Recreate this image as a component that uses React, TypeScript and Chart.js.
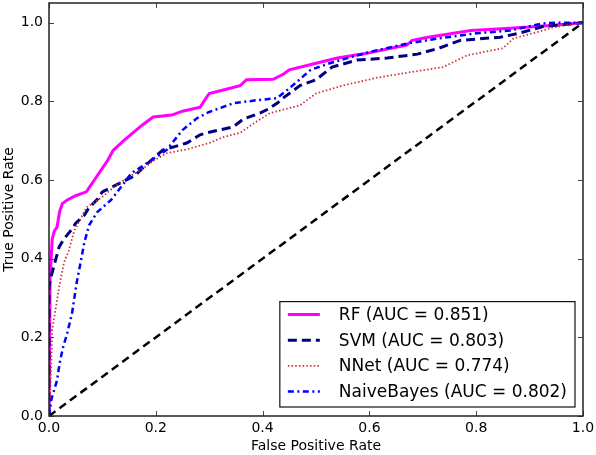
import React, { useEffect, useRef } from "react";
import { Chart, registerables } from "chart.js";

Chart.register(...registerables);

const seriesLabels = [
  "RF (AUC = 0.851)",
  "SVM (AUC = 0.803)",
  "NNet (AUC = 0.774)",
  "NaiveBayes (AUC = 0.802)",
];

const tickValues = [0, 0.2, 0.4, 0.6, 0.8, 1.0];

const rfFpr = [0, 0.002, 0.004, 0.006, 0.01, 0.015, 0.02, 0.025, 0.035, 0.05, 0.07, 0.08, 0.085, 0.095, 0.11, 0.12, 0.14, 0.157, 0.175, 0.195, 0.23, 0.25, 0.283, 0.29, 0.30, 0.33, 0.358, 0.37, 0.42, 0.44, 0.45, 0.50, 0.54, 0.595, 0.64, 0.67, 0.68, 0.71, 0.79, 0.863, 0.94, 1.0];
const rfTpr = [0, 0.35, 0.40, 0.45, 0.47, 0.48, 0.52, 0.54, 0.55, 0.56, 0.57, 0.59, 0.60, 0.62, 0.65, 0.675, 0.70, 0.72, 0.74, 0.76, 0.765, 0.775, 0.785, 0.80, 0.82, 0.83, 0.84, 0.855, 0.856, 0.87, 0.88, 0.897, 0.91, 0.922, 0.935, 0.943, 0.955, 0.963, 0.98, 0.986, 0.993, 1.0];

const svmFpr = [0, 0, 0.005, 0.013, 0.019, 0.028, 0.04, 0.05, 0.066, 0.075, 0.09, 0.10, 0.137, 0.16, 0.183, 0.213, 0.258, 0.283, 0.296, 0.345, 0.364, 0.395, 0.41, 0.427, 0.44, 0.47, 0.50, 0.53, 0.577, 0.633, 0.69, 0.73, 0.77, 0.845, 0.88, 0.925, 1.0];
const svmTpr = [0, 0.33, 0.36, 0.40, 0.43, 0.45, 0.47, 0.49, 0.51, 0.53, 0.55, 0.57, 0.595, 0.61, 0.64, 0.676, 0.694, 0.715, 0.72, 0.735, 0.755, 0.77, 0.78, 0.795, 0.81, 0.84, 0.855, 0.887, 0.905, 0.91, 0.92, 0.935, 0.955, 0.963, 0.973, 0.99, 1.0];

const nnetFpr = [0, 0.002, 0.004, 0.006, 0.013, 0.019, 0.028, 0.037, 0.047, 0.06, 0.07, 0.097, 0.12, 0.146, 0.172, 0.197, 0.22, 0.258, 0.30, 0.326, 0.358, 0.39, 0.414, 0.47, 0.50, 0.55, 0.614, 0.676, 0.738, 0.783, 0.85, 0.87, 0.914, 0.944, 1.0];
const nnetTpr = [0, 0.05, 0.125, 0.22, 0.277, 0.328, 0.39, 0.42, 0.47, 0.503, 0.53, 0.554, 0.58, 0.605, 0.625, 0.65, 0.668, 0.678, 0.694, 0.709, 0.72, 0.75, 0.77, 0.79, 0.82, 0.84, 0.86, 0.874, 0.887, 0.917, 0.935, 0.96, 0.976, 0.988, 1.0];

const nbFpr = [0, 0.005, 0.015, 0.02, 0.026, 0.034, 0.043, 0.052, 0.06, 0.066, 0.075, 0.09, 0.116, 0.135, 0.154, 0.18, 0.22, 0.25, 0.277, 0.30, 0.345, 0.39, 0.427, 0.45, 0.49, 0.526, 0.564, 0.614, 0.676, 0.73, 0.80, 0.863, 0.925, 0.95, 1.0];
const nbTpr = [0, 0.045, 0.09, 0.135, 0.173, 0.21, 0.26, 0.34, 0.396, 0.44, 0.485, 0.518, 0.549, 0.582, 0.617, 0.64, 0.676, 0.727, 0.757, 0.773, 0.795, 0.803, 0.808, 0.833, 0.88, 0.897, 0.912, 0.93, 0.948, 0.96, 0.973, 0.98, 0.998, 1.0, 1.0];

const diagFpr = [0, 1];
const diagTpr = [0, 1];

const FONT = "'DejaVu Sans', sans-serif";

function pts(xs: number[], ys: number[]) {
  return xs.map((x, i) => ({ x, y: ys[i] }));
}

const framePlugin = {
  id: "frameTicks",
  afterDatasetsDraw(chart: any) {
    const { ctx, chartArea: ca, scales } = chart;
    ctx.save();
    ctx.strokeStyle = "#444";
    ctx.lineWidth = 1;
    ctx.setLineDash([]);
    const L = 5;
    tickValues.forEach((v) => {
      const x = Math.round(scales.x.getPixelForValue(v)) + 0.5;
      ctx.beginPath();
      ctx.moveTo(x, ca.bottom);
      ctx.lineTo(x, ca.bottom - L);
      ctx.moveTo(x, ca.top);
      ctx.lineTo(x, ca.top + L);
      ctx.stroke();
      const y = Math.round(scales.y.getPixelForValue(v)) + 0.5;
      ctx.beginPath();
      ctx.moveTo(ca.left, y);
      ctx.lineTo(ca.left + L, y);
      ctx.moveTo(ca.right, y);
      ctx.lineTo(ca.right - L, y);
      ctx.stroke();
    });
    ctx.strokeStyle = "#222";
    ctx.lineWidth = 1.5;
    ctx.strokeRect(ca.left, ca.top, ca.right - ca.left, ca.bottom - ca.top);

    // legend
    const ds = chart.data.datasets.slice(0, 4);
    ctx.font = `17px ${FONT}`;
    let maxW = 0;
    ds.forEach((d: any) => {
      maxW = Math.max(maxW, ctx.measureText(d.label).width);
    });
    const rowH = 25.6;
    const boxRight = ca.right - 8;
    const boxBottom = ca.bottom - 9;
    const boxTop = boxBottom - (rowH * 4 + 3);
    const textX = boxRight - 8 - maxW;
    const lineEnd = textX - 19;
    const lineStart = lineEnd - 32;
    const boxLeft = lineStart - 8;
    ctx.fillStyle = "#fff";
    ctx.fillRect(boxLeft, boxTop, boxRight - boxLeft, boxBottom - boxTop);
    ctx.strokeStyle = "#111";
    ctx.lineWidth = 1.2;
    ctx.strokeRect(boxLeft, boxTop, boxRight - boxLeft, boxBottom - boxTop);
    ds.forEach((d: any, i: number) => {
      const cy = boxTop + 13 + i * rowH;
      ctx.beginPath();
      ctx.strokeStyle = d.borderColor;
      ctx.lineWidth = d.borderWidth;
      ctx.setLineDash(d.borderDash || []);
      ctx.moveTo(lineStart, cy);
      ctx.lineTo(lineEnd, cy);
      ctx.stroke();
      ctx.setLineDash([]);
      ctx.fillStyle = "#000";
      ctx.textBaseline = "middle";
      ctx.textAlign = "left";
      ctx.fillText(d.label, textX, cy + 1);
    });
    ctx.restore();
  },
};

export default function App() {
  const ref = useRef<HTMLCanvasElement>(null);
  useEffect(() => {
    if (!ref.current) return;
    const common = { showLine: true, pointRadius: 0, fill: false, tension: 0 };
    const chart = new Chart(ref.current, {
      type: "scatter",
      data: {
        datasets: [
          { ...common, label: seriesLabels[0], data: pts(rfFpr, rfTpr), borderColor: "#ff00ff", borderWidth: 3, order: 5 },
          { ...common, label: seriesLabels[1], data: pts(svmFpr, svmTpr), borderColor: "#000080", borderWidth: 3, borderDash: [9, 5], order: 4 },
          { ...common, label: seriesLabels[2], data: pts(nnetFpr, nnetTpr), borderColor: "#d0303a", borderWidth: 1.8, borderDash: [1.5, 2.2], order: 3 },
          { ...common, label: seriesLabels[3], data: pts(nbFpr, nbTpr), borderColor: "#0000ff", borderWidth: 2.5, borderDash: [6, 3.5, 2, 3.5], order: 2 },
          { ...common, label: "diag", data: pts(diagFpr, diagTpr), borderColor: "#000", borderWidth: 2.5, borderDash: [8, 5], order: 1 },
        ],
      },
      options: {
        animation: false,
        responsive: false,
        maintainAspectRatio: false,
        layout: { padding: { top: 3, right: 13, left: 0, bottom: 0 } },
        plugins: { legend: { display: false }, tooltip: { enabled: false } },
        scales: {
          x: {
            type: "linear",
            min: 0,
            max: 1,
            grid: { display: false, drawTicks: false },
            border: { display: false },
            afterFit: (s: any) => { s.height = 39; s.paddingLeft = 0; s.paddingRight = 0; },
            afterBuildTicks: (s: any) => { s.ticks = tickValues.map((v) => ({ value: v })); },
            ticks: { color: "#000", font: { family: FONT, size: 14 }, padding: 4, maxRotation: 0, callback: (v: any) => Number(v).toFixed(1) },
            title: { display: true, text: "False Positive Rate", color: "#000", font: { family: FONT, size: 14 }, padding: { top: 0, bottom: 0 } },
          },
          y: {
            type: "linear",
            min: 0,
            max: 1.05,
            grid: { display: false, drawTicks: false },
            border: { display: false },
            afterFit: (s: any) => { s.width = 49; s.paddingTop = 0; s.paddingBottom = 0; },
            afterBuildTicks: (s: any) => { s.ticks = tickValues.map((v) => ({ value: v })); },
            ticks: { color: "#000", font: { family: FONT, size: 14 }, padding: 6, callback: (v: any) => Number(v).toFixed(1) },
            title: { display: true, text: "True Positive Rate", color: "#000", font: { family: FONT, size: 14 }, padding: { top: 1, bottom: 0 } },
          },
        },
      },
      plugins: [framePlugin],
    });
    return () => chart.destroy();
  }, []);
  return (
    <div style={{ position: "fixed", left: 0, top: 0, width: 596, height: 455, background: "#fff" }}>
      <canvas ref={ref} width={596} height={455} />
    </div>
  );
}
